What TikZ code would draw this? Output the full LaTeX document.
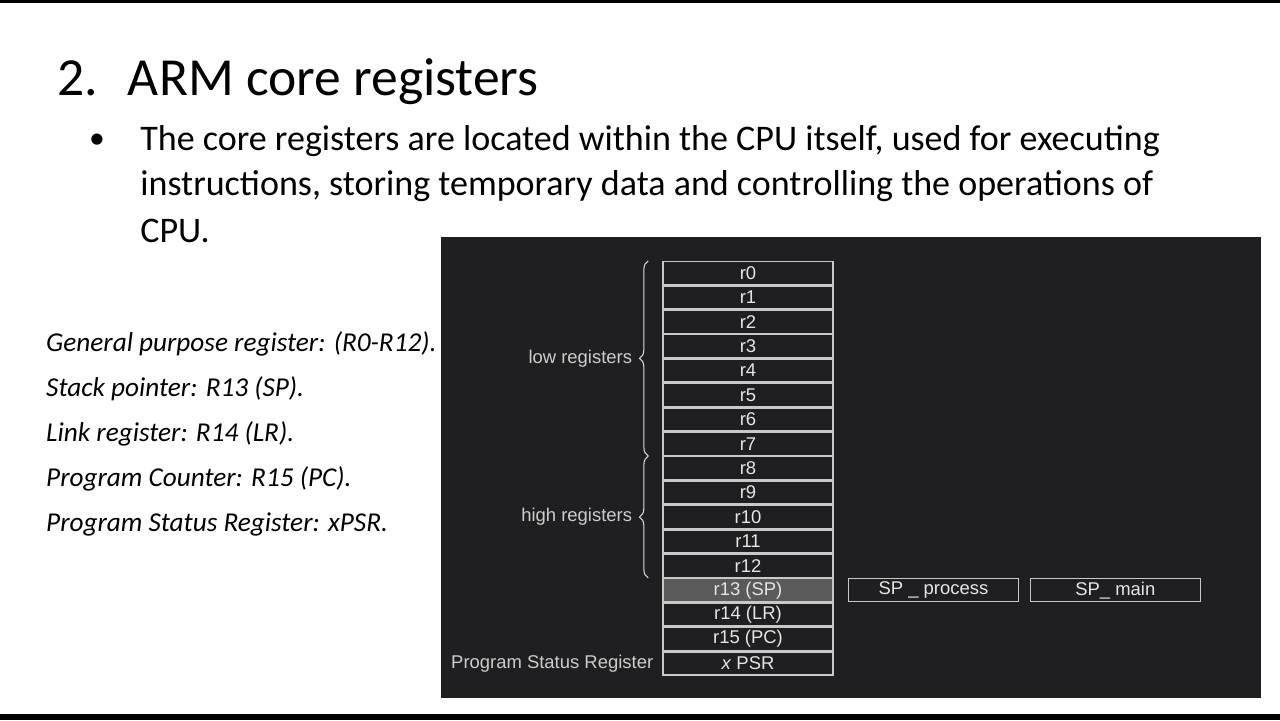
\documentclass[tikz,border=0pt]{standalone}
\usepackage{fontspec}
\setmainfont{Carlito}
\newfontfamily\regfont{Liberation Sans}
\usetikzlibrary{positioning, decorations.pathreplacing}
\definecolor{panelbg}{HTML}{1F1F21}
\definecolor{reggray}{HTML}{C8C8C8}
\definecolor{regfill}{HTML}{5A5A5A}

\begin{document}
\begin{tikzpicture}[
    x=0.02cm, y=-0.02cm,
    node distance=0pt,
    reg/.style={
        rectangle,
        minimum width=3.4cm,
        minimum height=0.46cm,
        draw=reggray,
        line width=0.8pt,
        fill=panelbg,
        text=white!90!black,
        font=\regfont\fontsize{10.5}{12}\selectfont,
        inner sep=0pt
    },
    side/.style={
        text=white!80!black,
        font=\regfont\fontsize{10.5}{12}\selectfont,
        inner sep=1pt
    },
    brace/.style={
        decorate,
        decoration={brace, amplitude=5pt, mirror},
        draw=white!85!black,
        line width=0.6pt
    },
    line/.style={
        font=\fontsize{20.5}{24}\selectfont,
        anchor=west, inner sep=0pt
    },
    note/.style={
        font=\fontsize{15.5}{20}\selectfont\itshape,
        anchor=west
    }
]
\useasboundingbox (0,0) rectangle (1280,720);
\fill[white] (0,0) rectangle (1280,720);
\fill[black] (0,0) rectangle (1280,3);
\fill[black] (0,714) rectangle (1280,720);

% Title and bullet
\node[anchor=west, inner sep=0pt, font=\fontsize{30.5}{36}\selectfont] (title) at (57,82) {2.\hspace{0.6cm}ARM core registers};
\node[font=\fontsize{18}{22}\selectfont] (dot) at (97,141) {\textbullet};
\node[line] (l1) at (140,141) {The core registers are located within the CPU itself, used for executing};
\node[line] (l2) at (140,186) {instructions, storing temporary data and controlling the operations of};
\node[line] (l3) at (140,231) {CPU.};

% Notes on the left
\node[note] (gp)  at (40,344) {General purpose register: (R0-R12).};
\node[note] (sp)  at (40,389) {Stack pointer: R13 (SP).};
\node[note] (lr)  at (40,434) {Link register: R14 (LR).};
\node[note] (pc)  at (40,479) {Program Counter: R15 (PC).};
\node[note] (psw) at (40,524) {Program Status Register: xPSR.};

% Dark panel
\fill[panelbg] (441,237) rectangle (1261,698);

% Register column
\node[reg] (r0) at (748,273) {r0};
\foreach \i [remember=\i as \j (initially 0)] in {1,...,12} {
    \node[reg, below=of r\j] (r\i) {r\i};
}
\node[reg, below=of r12, fill=regfill] (r13) {r13 (SP)};
\node[reg, below=of r13] (r14) {r14 (LR)};
\node[reg, below=of r14] (r15) {r15 (PC)};
\node[reg, below=of r15] (psr) {\textit{x} PSR};

% Banked stack pointers
\node[reg, right=8pt of r13] (spproc) {SP \_ process};
\node[reg, right=6pt of spproc] (spmain) {SP\_ main};

% Braces and side labels
\draw[brace] ([xshift=-8pt]r0.north west) -- ([xshift=-8pt]r7.south west) coordinate[midway] (lowmid);
\draw[brace] ([xshift=-8pt]r8.north west) -- ([xshift=-8pt]r12.south west) coordinate[midway] (highmid);
\node[side, anchor=east] (low) at ([xshift=-8pt]lowmid) {low registers};
\node[side, anchor=east] (high) at ([xshift=-8pt]highmid) {high registers};
\node[side, left=4pt of psr] (psrlabel) {Program Status Register};

\end{tikzpicture}
\end{document}
